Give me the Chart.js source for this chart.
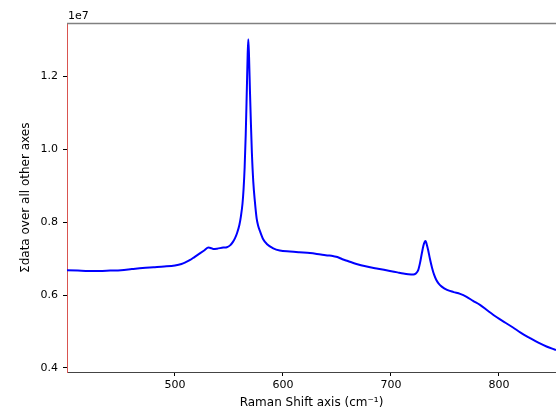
<!DOCTYPE html>
<html>
<head>
<meta charset="utf-8">
<script src="https://cdn.jsdelivr.net/npm/chart.js@4/dist/chart.umd.min.js"></script>
<style>
html, body { margin: 0; padding: 0; background: #fff; overflow: hidden; }
#c { display: block; }
</style>
</head>
<body>
<canvas id="c" width="556" height="413"></canvas>
<script>
// Raman shift (cm^-1)
const ramanShift = [
  400, 410, 420, 430, 440, 450, 460, 470, 480, 490,
  500, 506, 510, 514, 518, 523, 527, 531, 533, 535.5,
  539, 544.7, 548, 551, 553.5, 555.6, 557.5, 559.6, 561, 562.5,
  563.5, 564.5, 565.5, 566.5, 567.3, 567.9, 568.6, 569.4, 570.2, 571.2,
  572.5, 574, 575.6, 577, 578.7, 581.8, 585, 591, 597, 606.5,
  615, 625, 635, 643, 647, 650.3, 655, 660, 668, 677.5,
  688, 699, 706, 711.4, 716, 720.7, 723, 725.3, 726.9, 728.5,
  730, 731.3, 732.1, 733, 734.5, 736, 738, 740, 742, 744,
  747, 751.9, 758, 764, 770, 776, 782.4, 790, 798, 806,
  813, 820, 828.7, 836, 844, 852.8
];
// Sum of data over all other axes (x 1e7)
const intensityE7 = [
  0.668, 0.667, 0.666, 0.666, 0.667, 0.668, 0.671, 0.674, 0.676, 0.678,
  0.681, 0.685, 0.690, 0.696, 0.704, 0.714, 0.722, 0.730, 0.729, 0.726,
  0.727, 0.730, 0.731, 0.736, 0.745, 0.756, 0.770, 0.792, 0.815, 0.850,
  0.890, 0.950, 1.040, 1.160, 1.260, 1.301, 1.250, 1.160, 1.080, 0.990,
  0.910, 0.855, 0.810, 0.790, 0.775, 0.752, 0.740, 0.728, 0.722, 0.719,
  0.717, 0.715, 0.711, 0.708, 0.706, 0.704, 0.698, 0.693, 0.685, 0.678,
  0.672, 0.666, 0.662, 0.659, 0.657, 0.656, 0.659, 0.669, 0.688, 0.713,
  0.735, 0.746, 0.748, 0.740, 0.722, 0.700, 0.675, 0.655, 0.641, 0.632,
  0.623, 0.614, 0.608, 0.603, 0.595, 0.584, 0.573, 0.556, 0.539, 0.524,
  0.511, 0.497, 0.482, 0.470, 0.459, 0.449
];
const xTickValues = [500, 600, 700, 800];
const yTickValues = [4e6, 6e6, 8e6, 1e7, 1.2e7];
const xLimits = [400, 852.8];
const yLimits = [3.89e6, 1.344e7];

const points = ramanShift.map((x, i) => ({ x: x, y: intensityE7[i] * 1e7 }));

const TICK_FONT = { family: 'DejaVu Sans', size: 11 };
const TITLE_FONT = { family: 'DejaVu Sans', size: 12 };

const extras = {
  id: 'extras',
  afterDraw(chart) {
    const { ctx, chartArea } = chart;
    ctx.save();
    ctx.strokeStyle = '#808080';
    ctx.lineWidth = 1.5;
    ctx.beginPath();
    ctx.moveTo(chartArea.left, chartArea.top);
    ctx.lineTo(chartArea.right, chartArea.top);
    ctx.stroke();
    ctx.fillStyle = '#000';
    ctx.font = '11px "DejaVu Sans"';
    ctx.textAlign = 'left';
    ctx.textBaseline = 'bottom';
    ctx.fillText('1e7', chartArea.left + 1, chartArea.top - 2);
    ctx.restore();
  }
};

new Chart(document.getElementById('c'), {
  type: 'line',
  data: {
    datasets: [{
      data: points,
      borderColor: '#0000ff',
      borderWidth: 2,
      pointRadius: 0,
      fill: false,
      cubicInterpolationMode: 'monotone'
    }]
  },
  options: {
    responsive: false,
    animation: false,
    events: [],
    layout: { padding: { top: 23.5, left: 0, right: 0, bottom: 0 } },
    plugins: { legend: { display: false }, tooltip: { enabled: false }, title: { display: false } },
    scales: {
      x: {
        type: 'linear',
        min: xLimits[0],
        max: xLimits[1],
        afterBuildTicks: s => { s.ticks = xTickValues.map(v => ({ value: v })); },
        afterFit: s => { s.height = 41; },
        grid: { display: true, drawOnChartArea: false, drawTicks: true, tickLength: 4, color: '#000', tickWidth: 1 },
        border: { display: true, color: '#444', width: 1 },
        ticks: { color: '#000', font: TICK_FONT, padding: 3, maxRotation: 0, autoSkip: false },
        title: { display: true, text: 'Raman Shift axis (cm\u207B\u00B9)', color: '#000', font: TITLE_FONT, padding: { top: 0, bottom: 3 } }
      },
      y: {
        type: 'linear',
        min: yLimits[0],
        max: yLimits[1],
        afterBuildTicks: s => { s.ticks = yTickValues.map(v => ({ value: v })); },
        afterFit: s => { s.width = 67; },
        grid: { display: true, drawOnChartArea: false, drawTicks: true, tickLength: 4, color: '#000', tickWidth: 1 },
        border: { display: true, color: '#d9534f', width: 1 },
        ticks: { color: '#000', font: TICK_FONT, padding: 5, autoSkip: false, callback: v => (v / 1e7).toFixed(1) },
        title: { display: true, text: '\u03A3data over all other axes', color: '#000', font: TITLE_FONT, padding: { top: 19, bottom: 0 } }
      }
    }
  },
  plugins: [extras]
});
</script>
</body>
</html>
